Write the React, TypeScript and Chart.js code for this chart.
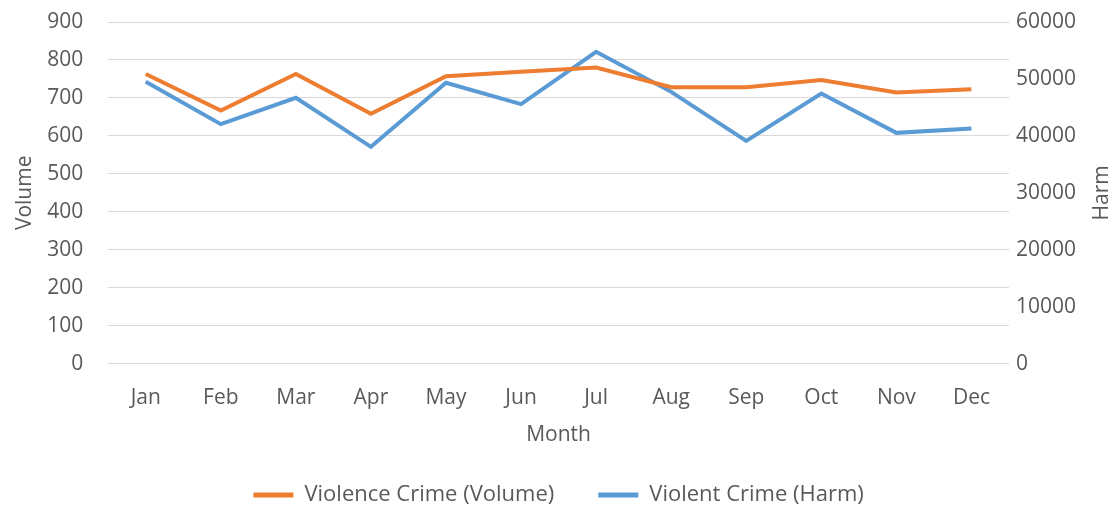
import React, { useEffect, useRef } from "react";
import { Chart, registerables } from "chart.js";

Chart.register(...registerables);

const months = ["Jan", "Feb", "Mar", "Apr", "May", "Jun", "Jul", "Aug", "Sep", "Oct", "Nov", "Dec"];
const volumeValues = [763, 667, 763, 658, 757, 769, 780, 728, 728, 747, 714, 723];
const harmValues = [49490, 42060, 46680, 38070, 49320, 45570, 54760, 47730, 39120, 47450, 40530, 41300];

const FONT = "Open Sans";
const TEXT = "#595959";
const FS = 21;
const LFS = 22;

const rightTitle = {
  id: "rightTitle",
  afterDraw(chart: any) {
    const { ctx, chartArea } = chart;
    ctx.save();
    ctx.fillStyle = TEXT;
    ctx.font = `${FS}px "${FONT}"`;
    ctx.textAlign = "center";
    ctx.textBaseline = "middle";
    ctx.translate(1102, (chartArea.top + chartArea.bottom) / 2);
    ctx.rotate(-Math.PI / 2);
    ctx.fillText("Harm", 0, 0);
    ctx.restore();
  },
};

export default function App() {
  const ref = useRef<HTMLCanvasElement | null>(null);
  useEffect(() => {
    if (!ref.current) return;
    const chart = new Chart(ref.current, {
      type: "line",
      data: {
        labels: months,
        datasets: [
          {
            label: "Violence Crime (Volume)",
            data: volumeValues,
            borderColor: "#ED7D31",
            backgroundColor: "#ED7D31",
            borderWidth: 4,
            pointRadius: 0,
            tension: 0,
            yAxisID: "y",
          },
          {
            label: "Violent Crime (Harm)",
            data: harmValues,
            borderColor: "#5B9BD5",
            backgroundColor: "#5B9BD5",
            borderWidth: 4,
            pointRadius: 0,
            tension: 0,
            yAxisID: "y1",
          },
        ],
      },
      plugins: [rightTitle],
      options: {
        animation: false,
        responsive: false,
        maintainAspectRatio: false,
        layout: { padding: { left: 12, right: 36, top: 22, bottom: -8 } },
        plugins: {
          legend: {
            position: "bottom",
            fullSize: false,
            labels: {
              color: TEXT,
              font: { family: FONT, size: LFS },
              boxWidth: 40,
              boxHeight: 5,
              padding: 44,
              generateLabels: (c: any) =>
                (Chart as any).defaults.plugins.legend.labels
                  .generateLabels(c)
                  .map((l: any) => ({ ...l, lineWidth: 0 })),
            },
          },
          tooltip: { enabled: false },
        },
        scales: {
          x: {
            offset: true,
            grid: { display: false },
            border: { display: false },
            ticks: { color: TEXT, font: { family: FONT, size: FS }, padding: 14 },
            title: {
              display: true,
              text: "Month",
              color: TEXT,
              font: { family: FONT, size: FS },
              padding: { top: -2, bottom: -8 },
            },
          },
          y: {
            position: "left",
            min: 0,
            max: 900,
            ticks: { stepSize: 100, color: TEXT, font: { family: FONT, size: FS }, padding: 0 },
            grid: {
              color: "#d9d9d9",
              lineWidth: 1,
              drawTicks: true,
              tickLength: 25,
              tickColor: "rgba(0,0,0,0)",
            },
            border: { display: false },
            title: {
              display: true,
              text: "Volume",
              color: TEXT,
              font: { family: FONT, size: FS },
              padding: { top: 0, bottom: 10 },
            },
          },
          y1: {
            position: "right",
            min: 0,
            max: 60000,
            ticks: {
              stepSize: 10000,
              color: TEXT,
              font: { family: FONT, size: FS },
              padding: 0,
              callback: (v: any) => String(v),
            },
            grid: { display: false, drawTicks: true, tickLength: 7, tickColor: "rgba(0,0,0,0)" },
            border: { display: false },
          },
        },
      },
    });
    return () => chart.destroy();
  }, []);
  return (
    <div style={{ position: "fixed", left: 0, top: 0, width: 1112, height: 508, background: "#fff" }}>
      <canvas ref={ref} width={1112} height={508} style={{ width: 1112, height: 508 }} />
    </div>
  );
}
